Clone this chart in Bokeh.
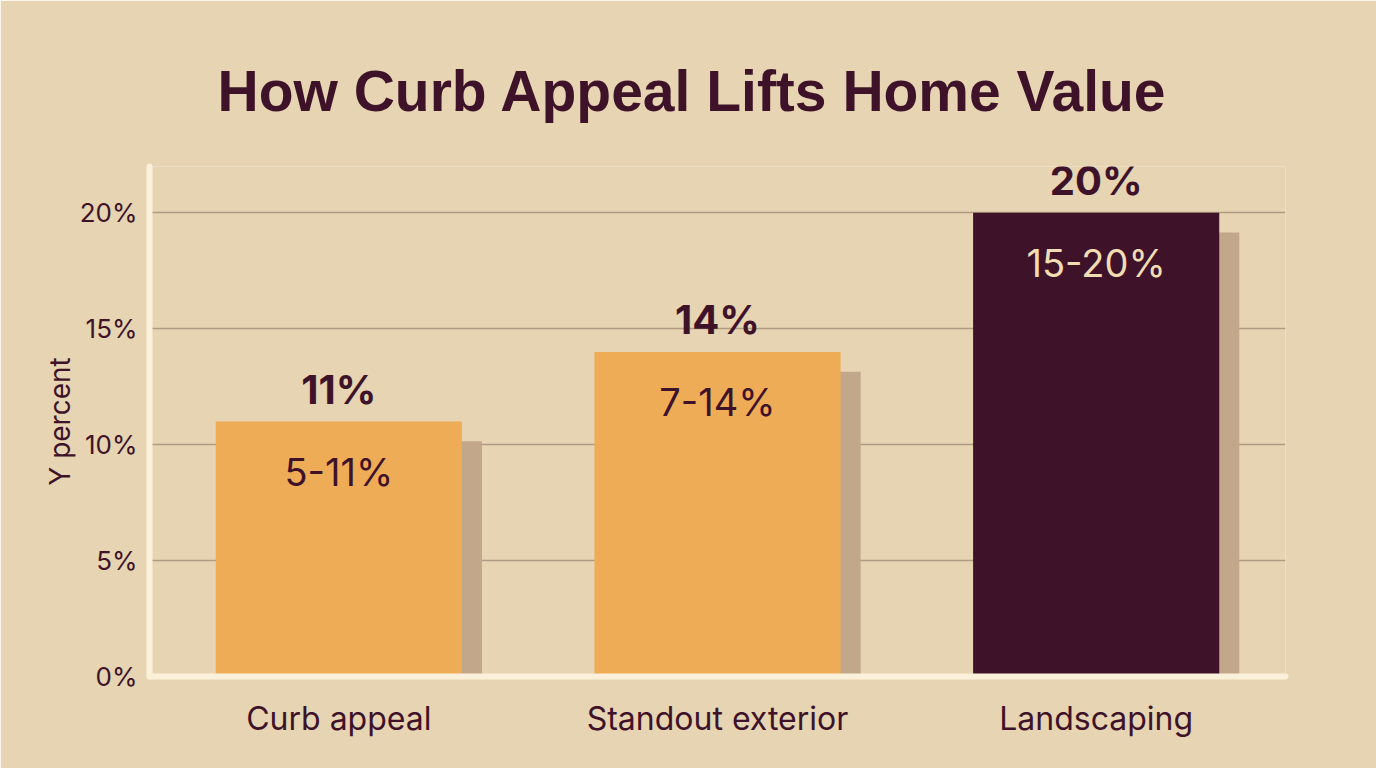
from bokeh.plotting import figure
from bokeh.models import (ColumnDataSource, FactorRange, Range1d, FixedTicker,
                          PrintfTickFormatter, LabelSet, Title)
from bokeh.core.properties import value
from bokeh.transform import dodge
from bokeh.embed import file_html
from bokeh.resources import INLINE

# ---- data ----
categories = ["Curb appeal", "Standout exterior", "Landscaping"]
values = [11, 14, 20]
range_labels = ["5-11%", "7-14%", "15-20%"]
bar_colors = ["#EFAC57", "#EFAC57", "#3E1329"]
inner_text_colors = ["#3E1329", "#3E1329", "#F1DDB4"]
y_ticks = [0, 5, 10, 15, 20]

BG = "#E6D4B2"
INK = "#3E1329"
FONT = "Inter"

SHADOW_DY = 0.85  # shadow drop in data units (style)

src = ColumnDataSource(dict(
    cat=categories,
    val=values,
    shadow_top=[v - SHADOW_DY for v in values],
    top_label=[f"{v}%" for v in values],
    inner_label=range_labels,
    color=bar_colors,
    inner_color=inner_text_colors,
))

p = figure(width=1376, height=768, x_range=FactorRange(*categories, range_padding=0),
           y_range=Range1d(0, 22), output_backend="svg", toolbar_location=None,
           min_border_left=149, min_border_right=91, min_border_top=166,
           min_border_bottom=92)
p.background_fill_color = BG
p.border_fill_color = BG
p.outline_line_color = None

# title
p.title = Title(text="How Curb Appeal Lifts Home Value", align="left",
                text_font="Liberation Sans", text_font_size="57px",
                text_font_style="bold", text_color=INK, standoff=88, offset=68)

# shadows
p.vbar(x=dodge("cat", 0.053, range=p.x_range), top="shadow_top", bottom=0,
       width=0.65, source=src, fill_color="#C2A78A", line_color=None)
# bars
p.vbar(x="cat", top="val", bottom=0, width=0.65, source=src,
       fill_color="color", line_color=None)

# labels
top_labels = LabelSet(x="cat", y="val", text="top_label", source=src,
                      text_align="center", text_baseline="middle", y_offset=32,
                      text_font=value(FONT), text_font_size=value("40px"),
                      text_font_style="bold", text_color=INK)
inner_labels = LabelSet(x="cat", y="val", text="inner_label", source=src,
                        text_align="center", text_baseline="middle", y_offset=-50,
                        text_font=value(FONT), text_font_size=value("38px"),
                        text_font_style="normal", text_color="inner_color")
p.add_layout(top_labels)
p.add_layout(inner_labels)

# grid
p.xgrid.grid_line_color = None
p.ygrid.ticker = FixedTicker(ticks=y_ticks)
p.ygrid.grid_line_color = "#B19B82"
p.ygrid.grid_line_width = 1.5

# axes
AXIS_COLOR = "#FBF1DA"
for ax in (p.xaxis[0], p.yaxis[0]):
    ax.axis_line_color = AXIS_COLOR
    ax.axis_line_width = 6
    ax.axis_line_cap = "round"
    ax.major_tick_line_color = None
    ax.minor_tick_line_color = None
    ax.major_label_text_color = INK
    ax.major_label_text_font = FONT

p.yaxis.ticker = FixedTicker(ticks=y_ticks)
p.yaxis.formatter = PrintfTickFormatter(format="%d%%")
p.yaxis.major_label_text_font_size = "26px"
p.yaxis.major_label_standoff = 6
p.yaxis.axis_label = "Y percent"
p.yaxis.axis_label_text_font = FONT
p.yaxis.axis_label_text_font_size = "28px"
p.yaxis.axis_label_text_font_style = "normal"
p.yaxis.axis_label_text_color = INK
p.yaxis.axis_label_standoff = 0

p.xaxis.major_label_text_font_size = "32px"
p.xaxis.major_label_standoff = 16

open("out.html", "w").write(file_html(p, INLINE))
